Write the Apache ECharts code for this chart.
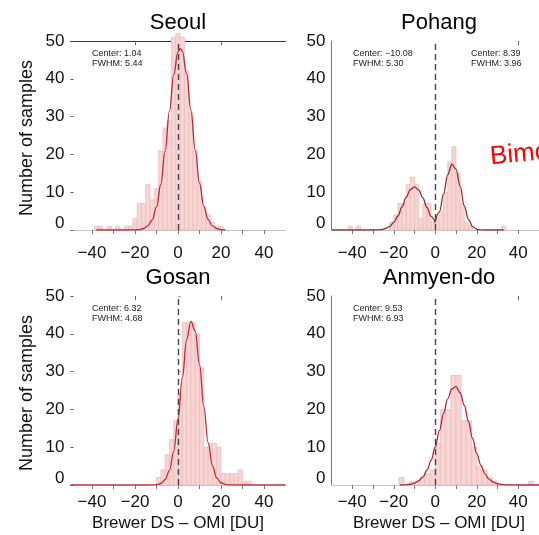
<!DOCTYPE html>
<html><head><meta charset="utf-8">
<script src="https://cdn.jsdelivr.net/npm/echarts@6/dist/echarts.min.js"></script>
<style>html,body{margin:0;padding:0;background:#fff}#c{width:539px;height:535px}</style>
</head><body><div id="c"></div>
<script>
// ---------------- DATA ----------------
const panelTitles = ['Seoul', 'Pohang', 'Gosan', 'Anmyen-do'];
const xLabelValues = [-40, -20, 0, 20, 40];
const xTickValues = [-40, -30, -20, -10, 0, 10, 20, 30, 40];
const yTickValues = [0, 10, 20, 30, 40, 50];
const xAxisTitle = 'Brewer DS \u2013 OMI [DU]';
const yAxisTitle = 'Number of samples';

// Seoul histogram (bin left edges, counts)
const seoulBinWidth = 2;
const seoulBinStart = [-39, -37, -33, -29, -25, -23, -21, -19, -17, -15, -13, -11, -9, -7, -5, -3, -1, 1, 3, 5, 7, 9, 11, 13, 15, 17, 19];
const seoulCounts   = [1, 1, 1, 1, 1, 1, 3, 7, 7, 12, 8, 11, 21, 27, 29, 51, 52, 51, 42, 31, 21, 13, 6, 4, 2, 1, 1];
const seoulFitX = [-38, -34, -30, -26, -24, -22, -20, -18, -16, -14, -12, -10, -8, -6, -4, -2, 0, 1, 2, 4, 6, 8, 10, 12, 14, 16, 18, 20, 22];
const seoulFitY = [0, 0, 0, 0, 0, 0.01, 0.03, 0.1, 0.4, 1.1, 2.7, 6.1, 12.1, 20.8, 31.3, 41.1, 47.1, 48, 47.3, 41.4, 31.7, 21.2, 12.4, 6.3, 2.8, 1.1, 0.4, 0.1, 0];
const seoulNote = ['Center: 1.04', 'FWHM: 5.44'];

// Pohang histogram
const pohangBinWidth = 2;
const pohangBinStart = [-42, -38, -22, -20, -18, -16, -14, -12, -10, -8, -6, -4, -2, 0, 2, 4, 6, 8, 10, 12, 14, 16, 32];
const pohangCounts   = [1, 1, 2, 4, 7, 7, 12, 14, 12, 3, 7, 7, 2, 3, 5, 10, 18, 22, 15, 7, 2, 1, 1];
const pohangFitLeftX = [-50, -40, -30, -26, -24, -22, -20, -18, -16, -14, -12, -10, -8, -6, -4, -2, 0];
const pohangFitLeftY = [0, 0, 0, 0.1, 0.4, 0.9, 2.0, 3.7, 6.1, 8.7, 10.7, 11.4, 10.6, 8.5, 5.9, 3.6, 1.9];
const pohangFitRightX = [0, 2, 4, 6, 8, 10, 12, 14, 16, 18, 20, 22, 24, 28, 33];
const pohangFitRightY = [2.2, 4.8, 9.5, 14.6, 17.4, 16.1, 11.6, 6.4, 2.8, 0.9, 0.2, 0.05, 0, 0, 0];
const pohangNoteLeft = ['Center: \u221210.08', 'FWHM: 5.30'];
const pohangNoteRight = ['Center: 8.39', 'FWHM: 3.96'];

// Gosan histogram
const gosanBinWidth = 2;
const gosanBinStart = [-10, -8, -6, -4, -2, 0, 2, 4, 6, 8, 10, 12, 14, 16, 18, 20, 22, 24, 26, 28, 30, 32];
const gosanCounts   = [2, 4, 8, 12, 17, 24, 43, 43, 43, 40, 31, 10, 11, 11, 10, 3, 3, 3, 3, 4, 1, 1];
const gosanFitX = [-50, -30, -16, -14, -12, -10, -8, -6, -4, -2, 0, 2, 4, 6, 8, 10, 12, 14, 16, 18, 20, 22, 24, 30, 50];
const gosanFitY = [0, 0, 0, 0, 0.02, 0.1, 0.4, 1.4, 3.8, 8.9, 17.4, 28.3, 38.4, 43.3, 40.7, 31.9, 20.8, 11.3, 5.1, 1.9, 0.6, 0.16, 0.04, 0, 0];
const gosanNote = ['Center: 6.32', 'FWHM: 4.68'];

// Anmyen-do histogram
const anmyenBinWidth = 2.5;
const anmyenBinStart = [-17.5, -12.5, -10, -7.5, -5, -2.5, 0, 2.5, 5, 7.5, 10, 12.5, 15, 17.5, 20, 22.5, 25, 27.5, 45];
const anmyenCounts   = [2, 1, 1, 2, 3, 4, 11, 20, 20, 29, 29, 17, 17, 10, 5, 4, 2, 1, 1];
const anmyenFitX = [-17, -16, -14, -12, -10, -8, -6, -4, -2, 0, 2, 4, 6, 8, 10, 12, 14, 16, 18, 20, 22, 24, 26, 28, 30, 32, 34, 36, 40, 50];
const anmyenFitY = [0, 0.03, 0.08, 0.2, 0.5, 1.1, 2.1, 3.9, 6.5, 10.1, 14.4, 18.9, 22.8, 25.4, 26, 24.4, 21.1, 16.8, 12.3, 8.3, 5.2, 2.9, 1.5, 0.75, 0.33, 0.14, 0.05, 0.02, 0, 0];
const anmyenNote = ['Center: 9.53', 'FWHM: 6.93'];

const sideNote = 'Bimodal';

// ---------------- BUILD ----------------
const FONT = '"Liberation Sans", Arial, Helvetica, sans-serif';
const W = 215, H = 189;
const panels = [
  { title: panelTitles[0], left: 70.5, top: 41, bs: seoulBinStart, cnt: seoulCounts, bw: seoulBinWidth,
    fits: [[seoulFitX, seoulFitY]], color: '#b8263b', yLine: false, topLine: true, topTicks: [-20, 0, 20], rightTicks: true, lm: 15, xTitle: false,
    notes: [[92, seoulNote]] },
  { title: panelTitles[1], left: 331.5, top: 41, bs: pohangBinStart, cnt: pohangCounts, bw: pohangBinWidth,
    fits: [[pohangFitLeftX, pohangFitLeftY], [pohangFitRightX, pohangFitRightY]], color: '#8f2d2d', yLine: true, topLine: false, topTicks: [40], rightTicks: false, lm: 15, xTitle: false,
    notes: [[353, pohangNoteLeft], [471, pohangNoteRight]] },
  { title: panelTitles[2], left: 70.5, top: 296, bs: gosanBinStart, cnt: gosanCounts, bw: gosanBinWidth,
    fits: [[gosanFitX, gosanFitY]], color: '#bf2a3c', yLine: false, topLine: false, topTicks: [-20, 20], rightTicks: true, lm: 9, xTitle: true,
    notes: [[92, gosanNote]] },
  { title: panelTitles[3], left: 331.5, top: 296, bs: anmyenBinStart, cnt: anmyenCounts, bw: anmyenBinWidth,
    fits: [[anmyenFitX, anmyenFitY]], color: '#b0243a', yLine: true, topLine: false, topTicks: [40], rightTicks: false, lm: 9, xTitle: true,
    notes: [[353, anmyenNote]] }
];

function xFmt(v) {
  if (xLabelValues.indexOf(v) < 0) return '';
  return v < 0 ? '\u2212' + Math.abs(v) : String(v);
}
function yFmt(v) { return v === 0 ? '{z|0}' : String(v); }

function histRender(params, api) {
  const x0 = api.value(0), x1 = api.value(1), c = api.value(2);
  const p0 = api.coord([x0, c]);
  const p1 = api.coord([x1, 0]);
  return {
    type: 'rect',
    shape: { x: p0[0], y: p0[1], width: p1[0] - p0[0], height: p1[1] - p0[1] },
    style: { fill: '#f8d4d4', stroke: '#e6bcbc', lineWidth: 0.7 }
  };
}

const grid = [], xAxis = [], yAxis = [], series = [], graphic = [];
panels.forEach((p, i) => {
  grid.push({ left: p.left, top: p.top, width: W, height: H, containLabel: false });
  xAxis.push({
    gridIndex: i, type: 'value', min: -50, max: 50, interval: 10, position: 'bottom',
    axisLine: { show: true, onZero: false, lineStyle: { color: '#c4c4c4', width: 1 } },
    axisTick: { show: true, length: 4, lineStyle: { color: '#777' }, customValues: xTickValues },
    axisLabel: { show: true, customValues: xLabelValues, formatter: xFmt, fontSize: 17, color: '#111', fontFamily: FONT, margin: p.lm },
    splitLine: { show: false }
  });
  xAxis.push({
    gridIndex: i, type: 'value', min: -50, max: 50, interval: 10, position: 'top',
    axisLine: { show: p.topLine, onZero: false, lineStyle: { color: '#333', width: 1 } },
    axisTick: { show: true, inside: true, length: 4, lineStyle: { color: '#666' }, customValues: p.topTicks },
    axisLabel: { show: false },
    splitLine: { show: false }
  });
  yAxis.push({
    gridIndex: i, type: 'value', min: 0, max: 50, interval: 10, position: 'left',
    axisLine: { show: p.yLine, onZero: false, lineStyle: { color: '#777', width: 1 } },
    axisTick: { show: !p.yLine, inside: true, length: 3, lineStyle: { color: '#555' } },
    axisLabel: { show: true, formatter: yFmt, fontSize: 17, color: '#111', fontFamily: FONT, margin: 6,
      rich: { z: { fontSize: 17, color: '#111', fontFamily: FONT, padding: [0, 0, 13, 0] } } },
    splitLine: { show: false }
  });
  yAxis.push({
    gridIndex: i, type: 'value', min: 0, max: 50, interval: 10, position: 'right', show: p.rightTicks,
    axisLine: { show: false },
    axisTick: { show: true, length: 3, lineStyle: { color: '#aaa' } },
    axisLabel: { show: false },
    splitLine: { show: false }
  });
  series.push({
    type: 'custom', xAxisIndex: 2 * i, yAxisIndex: 2 * i, clip: false, z: 1,
    renderItem: histRender,
    encode: { x: [0, 1], y: 2 },
    data: p.bs.map((s, k) => [s, s + p.bw, p.cnt[k]])
  });
  p.fits.forEach((f, k) => {
    const s = {
      type: 'line', xAxisIndex: 2 * i, yAxisIndex: 2 * i, z: 3,
      showSymbol: false, symbol: 'none', smooth: 0.4, smoothMonotone: 'x',
      lineStyle: { color: p.color, width: 1.3 },
      data: f[0].map((x, j) => [x, f[1][j]])
    };
    if (k === 0) {
      s.markLine = { silent: true, symbol: 'none', label: { show: false }, animation: false,
        lineStyle: { type: [6, 4], color: '#444', width: 1.4 }, data: [{ xAxis: 0 }] };
    }
    series.push(s);
  });
  const cx = p.left + W / 2;
  graphic.push({ type: 'text', x: cx, y: p.top - 18, style: { text: p.title, font: '22px ' + FONT, fill: '#000', textAlign: 'center', textVerticalAlign: 'middle', align: 'center', verticalAlign: 'middle' } });
  if (p.xTitle) {
    graphic.push({ type: 'text', x: cx, y: p.top + 227, style: { text: xAxisTitle, font: '17px ' + FONT, fill: '#111', textAlign: 'center', textVerticalAlign: 'middle', align: 'center', verticalAlign: 'middle' } });
  }
  p.notes.forEach(n => {
    graphic.push({ type: 'text', x: n[0], y: p.top + 8, style: { text: n[1].join('\n'), font: '9px ' + FONT, lineHeight: 10, fill: '#222', textAlign: 'left', textVerticalAlign: 'top', align: 'left', verticalAlign: 'top' } });
  });
  if (p.left < 100) {
    graphic.push({ type: 'text', x: 27, y: p.top + 97, rotation: Math.PI / 2, style: { text: yAxisTitle, font: '18px ' + FONT, fill: '#111', textAlign: 'center', textVerticalAlign: 'middle', align: 'center', verticalAlign: 'middle' } });
  }
});
graphic.push({ type: 'text', x: 490, y: 157, rotation: 0.09, style: { text: sideNote, font: '26px ' + FONT, fill: '#f00', textAlign: 'left', textVerticalAlign: 'middle', align: 'left', verticalAlign: 'middle' } });

const chart = echarts.init(document.getElementById('c'), null, { renderer: 'canvas' });
chart.setOption({ animation: false, backgroundColor: '#fff', grid, xAxis, yAxis, series, graphic });
</script></body></html>
